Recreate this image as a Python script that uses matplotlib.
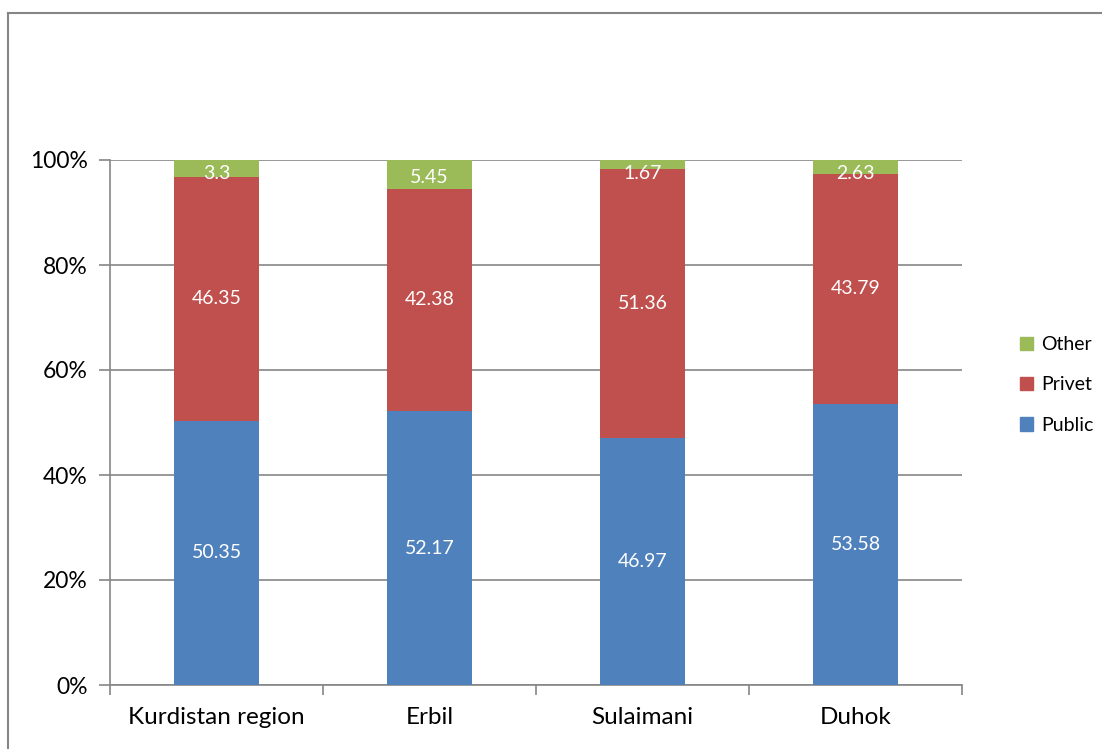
import matplotlib.pyplot as plt
import numpy as np
from matplotlib.lines import Line2D
from matplotlib.patches import Patch

plt.rcParams['font.family'] = ['Lato', 'DejaVu Sans']

# data
regions = ['Kurdistan region', 'Erbil', 'Sulaimani', 'Duhok']
public = [50.35, 52.17, 46.97, 53.58]
privet = [46.35, 42.38, 51.36, 43.79]
other = [3.3, 5.45, 1.67, 2.63]

c_public = '#4F81BD'
c_privet = '#C0504D'
c_other = '#9BBB59'
grid_c = '#868686'

fig = plt.figure(figsize=(11.02, 7.49), dpi=100)
ax = fig.add_axes([110/1102, 1 - 685/749, (962-110)/1102, (685-160)/749])

x = np.arange(len(regions))
tot = np.array(public) + np.array(privet) + np.array(other)
pub_p = np.array(public) / tot * 100
pri_p = np.array(privet) / tot * 100
oth_p = np.array(other) / tot * 100

w = 0.40
b1 = ax.bar(x, pub_p, w, color=c_public, zorder=3)
b2 = ax.bar(x, pri_p, w, bottom=pub_p, color=c_privet, zorder=3)
b3 = ax.bar(x, oth_p, w, bottom=pub_p + pri_p, color=c_other, zorder=3)

for bars, vals in [(b1, public), (b2, privet), (b3, other)]:
    for rect, v in zip(bars, vals):
        cy = rect.get_y() + rect.get_height() / 2
        if rect.get_height() < 8:
            # thin top segments: label pushed down a little, like excel does
            cy = min(cy - 0.7, 97.5)
        ax.text(rect.get_x() + rect.get_width() / 2, cy, f'{v:g}',
                ha='center', va='center', color='white', fontsize=14, zorder=4)

ax.set_xlim(-0.5, len(regions) - 0.5)
ax.set_ylim(0, 100)
ax.set_yticks([0, 20, 40, 60, 80, 100])
ax.set_yticklabels(['0%', '20%', '40%', '60%', '80%', '100%'], fontsize=16.5)
ax.set_xticks(x)
ax.set_xticklabels(regions, fontsize=17.5)
ax.set_xticks(np.arange(-0.5, len(regions)), minor=True)
ax.tick_params(axis='x', which='major', length=0, pad=16)
ax.tick_params(axis='x', which='minor', length=7, color=grid_c, width=1.2)
ax.tick_params(axis='y', length=8, color=grid_c, width=1.2, pad=8)

ax.grid(axis='y', color=grid_c, linewidth=1.2, zorder=0)
for s in ['top', 'right']:
    ax.spines[s].set_visible(False)
for s in ['left', 'bottom']:
    ax.spines[s].set_color(grid_c)
    ax.spines[s].set_linewidth(1.2)

handles = [Patch(color=c_other), Patch(color=c_privet), Patch(color=c_public)]
fig.legend(handles, ['Other', 'Privet', 'Public'], loc='center left',
           bbox_to_anchor=(1002/1102, 1 - 385/749), frameon=False, fontsize=14,
           handlelength=0.7, handleheight=0.7, handletextpad=0.4, labelspacing=1.2)

# outer chart border (cropped at right and bottom)
fig.add_artist(Line2D([8/1102, 8/1102], [0, 1 - 13/749], color=grid_c, lw=1.5,
                      transform=fig.transFigure))
fig.add_artist(Line2D([8/1102, 1], [1 - 13/749, 1 - 13/749], color=grid_c, lw=1.5,
                      transform=fig.transFigure))

fig.savefig('out.png', dpi=100)
